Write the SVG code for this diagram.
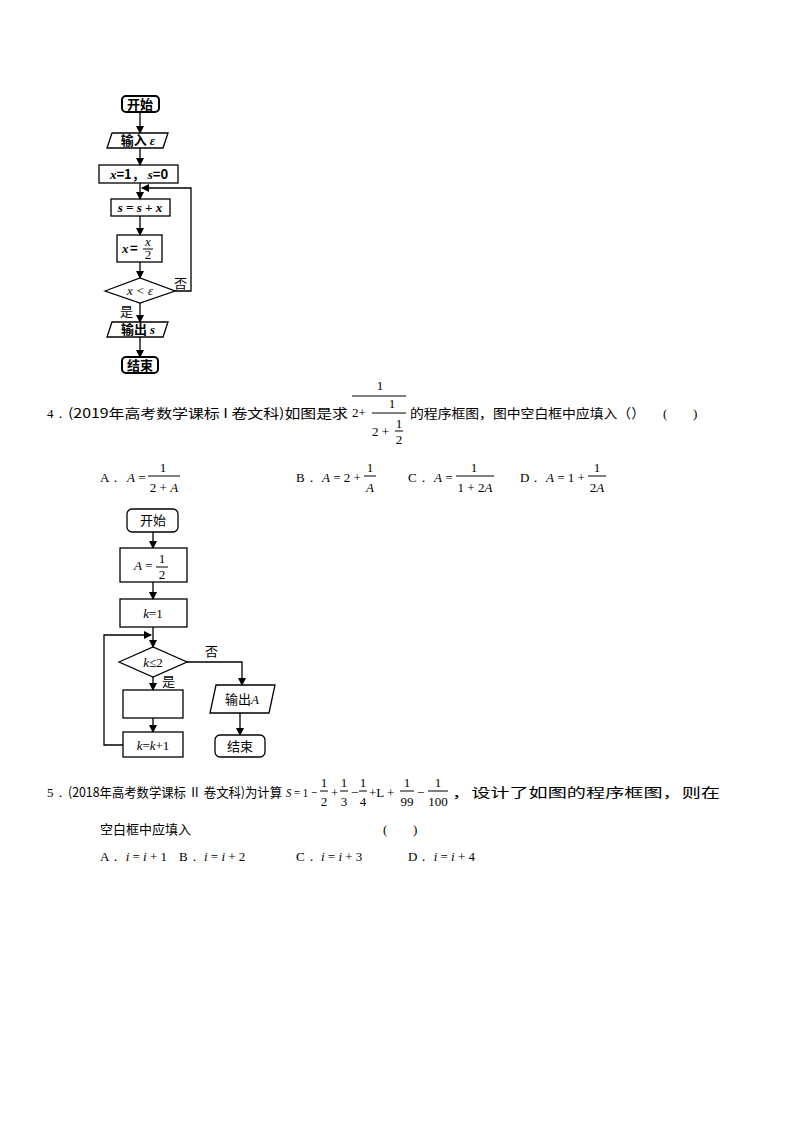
<svg xmlns="http://www.w3.org/2000/svg" width="794" height="1123" viewBox="0 0 794 1123">
<style>
.s{fill:#fff;stroke:#000;stroke-width:1.3}
.b{fill:#fff;stroke:#000;stroke-width:2}
.l{fill:none;stroke:#000;stroke-width:1.3}
text{font-family:"Noto Sans CJK SC","Liberation Serif",serif;font-size:13px;fill:#000}
.m{font-family:"Liberation Serif",serif;font-style:italic}
.r{font-family:"Liberation Serif",serif}
.c{text-anchor:middle}
.k{font-weight:bold}
</style>
<defs><marker id="a" markerWidth="8" markerHeight="8" refX="7" refY="4" orient="auto" markerUnits="userSpaceOnUse"><path d="M0,0L8,4L0,8z"/></marker></defs>
<rect width="794" height="1123" fill="#fff"/>
<!-- flowchart 1 -->
<g id="f1start"><rect class="b" x="122" y="96" width="37" height="16" rx="4"/><text class="c k" x="140" y="109">开始</text></g>
<g id="f1in"><polygon class="s" points="112,133 168,133 163,148 107,148"/><text class="c k" x="138" y="145">输入 <tspan class="m">ε</tspan></text></g>
<g id="f1init"><rect class="s" x="99" y="165" width="79" height="18"/><text class="c k" x="139" y="179"><tspan class="m">x</tspan>=1， <tspan class="m">s</tspan>=0</text></g>
<g id="f1s"><rect class="s" x="111" y="199" width="59" height="17"/><text class="c m k" x="140" y="212">s = s + x</text></g>
<g id="f1x"><rect class="s" x="117" y="235" width="45" height="27"/><text class="m k" x="122" y="253">x</text><text class="k" x="130" y="253">=</text><text class="c m" x="148" y="246" font-size="10">x</text><line x1="143" y1="249" x2="153" y2="249" stroke="#000"/><text class="c r" x="148" y="259" font-size="10">2</text></g>
<g id="f1d"><polygon class="s" points="105,291 140,278 175,291 140,303"/><text class="c m" x="140" y="295">x &lt; ε</text></g>
<g id="f1out"><polygon class="s" points="112,322 168,322 163,337 107,337"/><text class="c k" x="138" y="334">输出 <tspan class="m">s</tspan></text></g>
<g id="f1end"><rect class="b" x="122" y="357" width="36" height="16" rx="4"/><text class="c k" x="140" y="370">结束</text></g>
<g id="f1c" class="l" marker-end="url(#a)">
<line x1="140" y1="112" x2="140" y2="133"/><line x1="140" y1="148" x2="140" y2="165"/><line x1="140" y1="183" x2="140" y2="199"/><line x1="140" y1="216" x2="140" y2="235"/><line x1="140" y1="262" x2="140" y2="278"/><line x1="140" y1="303" x2="140" y2="322"/><line x1="140" y1="337" x2="140" y2="357"/>
<polyline points="175,291 191,291 191,188 142,188"/>
</g>
<text x="174" y="288">否</text><text x="120" y="316">是</text>
<!-- Q4 -->
<text x="47" y="418" class="r">4．</text><text x="68" y="418" font-size="12" textLength="280" lengthAdjust="spacingAndGlyphs">(2019年高考数学课标 I 卷文科)如图是求</text>
<text class="r c" x="380" y="390" font-size="12">1</text><line x1="352" y1="396" x2="406" y2="396" stroke="#000"/>
<text class="r" x="352" y="417" font-size="12">2+</text>
<text class="r c" x="392" y="408" font-size="12">1</text><line x1="372" y1="413" x2="406" y2="413" stroke="#000"/>
<text class="r" x="372" y="436" font-size="12">2 +</text><text class="r c" x="399" y="428" font-size="11">1</text><line x1="395" y1="431" x2="403" y2="431" stroke="#000"/><text class="r c" x="399" y="444" font-size="11">2</text>
<text x="410" y="418" font-size="12" textLength="235" lengthAdjust="spacingAndGlyphs">的程序框图，图中空白框中应填入（）</text><text x="663" y="418" class="r">(</text><text x="693" y="418" class="r">)</text>
<text x="100" y="482" class="r">A．</text><text x="127" y="482" class="r"><tspan class="m">A</tspan> =</text><text class="r c" x="163" y="472">1</text><line x1="148" y1="476" x2="180" y2="476" stroke="#000"/><text class="r c" x="164" y="492">2 + <tspan class="m">A</tspan></text>
<text x="296" y="482" class="r">B．</text><text x="322" y="482" class="r"><tspan class="m">A</tspan> = 2 +</text><text class="r c" x="370" y="472">1</text><line x1="364" y1="476" x2="376" y2="476" stroke="#000"/><text class="m c" x="370" y="492">A</text>
<text x="408" y="482" class="r">C．</text><text x="434" y="482" class="r"><tspan class="m">A</tspan> =</text><text class="r c" x="474" y="472">1</text><line x1="456" y1="476" x2="494" y2="476" stroke="#000"/><text class="r c" x="475" y="492">1 + 2<tspan class="m">A</tspan></text>
<text x="520" y="482" class="r">D．</text><text x="546" y="482" class="r"><tspan class="m">A</tspan> = 1 +</text><text class="r c" x="597" y="472">1</text><line x1="588" y1="476" x2="606" y2="476" stroke="#000"/><text class="r c" x="597" y="492">2<tspan class="m">A</tspan></text>
<!-- flowchart 2 -->
<g id="f2start"><rect class="s" x="127" y="509" width="51" height="23" rx="5" stroke="#555"/><text class="c" x="153" y="525" font-size="14">开始</text></g>
<g id="f2A"><rect class="s" x="120" y="548" width="67" height="34"/><text class="r" x="134" y="570"><tspan class="m">A</tspan> =</text><text class="r c" x="162" y="563">1</text><line x1="156" y1="567" x2="168" y2="567" stroke="#000"/><text class="r c" x="162" y="579">2</text></g>
<g id="f2k"><rect class="s" x="120" y="599" width="67" height="28"/><text class="r c" x="153" y="618" font-size="14"><tspan class="m">k</tspan>=1</text></g>
<g id="f2d"><polygon class="s" points="119,662 153,647 187,662 153,677"/><text class="r c" x="153" y="667" font-size="14"><tspan class="m">k</tspan>≤2</text></g>
<g id="f2blank"><rect class="s" x="123" y="690" width="60" height="28"/></g>
<g id="f2inc"><rect class="s" x="123" y="732" width="60" height="25"/><text class="r c" x="153" y="750" font-size="14"><tspan class="m">k</tspan>=<tspan class="m">k</tspan>+1</text></g>
<g id="f2out"><polygon class="s" points="216,685 275,685 269,713 210,713"/><text class="c" x="242" y="704" font-size="14">输出<tspan class="m">A</tspan></text></g>
<g id="f2end"><rect class="s" x="215" y="735" width="50" height="22" rx="5" stroke="#555"/><text class="c" x="240" y="751" font-size="14">结束</text></g>
<g id="f2c" class="l" marker-end="url(#a)">
<line x1="153" y1="532" x2="153" y2="548"/><line x1="153" y1="582" x2="153" y2="599"/><line x1="153" y1="627" x2="153" y2="647"/><line x1="153" y1="677" x2="153" y2="690"/><line x1="153" y1="718" x2="153" y2="732"/>
<polyline points="123,745 104,745 104,635 151,635"/>
<polyline points="187,662 242,662 242,685"/>
<line x1="240" y1="713" x2="240" y2="735"/>
</g>
<text x="205" y="656" font-size="14">否</text><text x="162" y="686" font-size="14">是</text>
<!-- Q5 -->
<text x="47" y="797" class="r">5．</text><text x="68" y="797" font-size="12" textLength="214" lengthAdjust="spacingAndGlyphs">(2018年高考数学课标 Ⅱ 卷文科)为计算</text>
<text x="286" y="797" class="r" font-size="12" textLength="31" lengthAdjust="spacingAndGlyphs"><tspan class="m">S</tspan> = 1 −</text>
<text class="r c" x="324" y="787" font-size="12">1</text><line x1="320" y1="791" x2="328" y2="791" stroke="#000"/><text class="r c" x="324" y="806" font-size="12">2</text>
<text x="331" y="797" class="r">+</text>
<text class="r c" x="344" y="787" font-size="12">1</text><line x1="340" y1="791" x2="348" y2="791" stroke="#000"/><text class="r c" x="344" y="806" font-size="12">3</text>
<text x="351" y="797" class="r">−</text>
<text class="r c" x="363" y="787" font-size="12">1</text><line x1="359" y1="791" x2="367" y2="791" stroke="#000"/><text class="r c" x="363" y="806" font-size="12">4</text>
<text x="369" y="797" class="r">+L  +</text>
<text class="r c" x="407" y="787" font-size="12">1</text><line x1="400" y1="791" x2="414" y2="791" stroke="#000"/><text class="r c" x="407" y="806" font-size="12">99</text>
<text x="417" y="797" class="r">−</text>
<text class="r c" x="438" y="787" font-size="12">1</text><line x1="428" y1="791" x2="448" y2="791" stroke="#000"/><text class="r c" x="438" y="806" font-size="12">100</text>
<text x="452" y="797" font-size="12" textLength="268" lengthAdjust="spacingAndGlyphs">，设计了如图的程序框图，则在</text>
<text x="100" y="834" font-size="13">空白框中应填入</text><text x="383" y="834" class="r">(</text><text x="413" y="834" class="r">)</text>
<text x="100" y="861" class="r">A． <tspan class="m">i</tspan> = <tspan class="m">i</tspan> + 1</text>
<text x="179" y="861" class="r">B． <tspan class="m">i</tspan> = <tspan class="m">i</tspan> + 2</text>
<text x="296" y="861" class="r">C． <tspan class="m">i</tspan> = <tspan class="m">i</tspan> + 3</text>
<text x="408" y="861" class="r">D． <tspan class="m">i</tspan> = <tspan class="m">i</tspan> + 4</text>
</svg>
